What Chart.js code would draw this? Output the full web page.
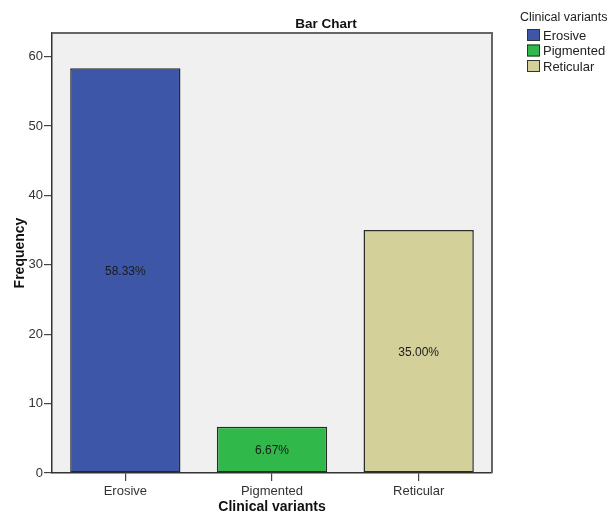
<!DOCTYPE html>
<html>
<head>
<meta charset="utf-8">
<title>Bar Chart</title>
<script src="https://cdn.jsdelivr.net/npm/chart.js@4.4.1/dist/chart.umd.min.js"></script>
<style>
  html, body { margin: 0; padding: 0; background: #ffffff; }
  #wrap { width: 616px; height: 512px; position: relative; }
</style>
</head>
<body>
<div id="wrap"><canvas id="barChart" width="616" height="512"></canvas></div>
<script>
// Clinical variant counts (percent of cases)
const categories = ['Erosive', 'Pigmented', 'Reticular'];
const frequencies = [58.33, 6.67, 35.00];
const yTickValues = [0, 10, 20, 30, 40, 50, 60];

const chartTitle = 'Bar Chart';
const legendTitle = 'Clinical variants';
const xAxisTitle = 'Clinical variants';
const yAxisTitle = 'Frequency';

const barColors = ['#3e56a8', '#30b84a', '#d4d099'];
const FONT = "'Liberation Sans', Arial, sans-serif";

// background, frame, in-bar percentages, title and legend
const spssDecor = {
    id: 'spssDecor',
    beforeDraw(chart) {
        const { ctx, chartArea: a } = chart;
        ctx.save();
        ctx.fillStyle = '#f0f0f0';
        ctx.fillRect(a.left, a.top, a.right - a.left, a.bottom - a.top);
        ctx.restore();
    },
    afterDraw(chart) {
        const { ctx, chartArea: a } = chart;
        ctx.save();

        // top and right edges of the plot frame
        ctx.strokeStyle = '#666666';
        ctx.lineWidth = 2;
        ctx.beginPath();
        ctx.moveTo(a.left, a.top);
        ctx.lineTo(a.right, a.top);
        ctx.lineTo(a.right, a.bottom);
        ctx.stroke();

        // percentage labels in the middle of each bar
        const total = frequencies.reduce((s, v) => s + v, 0);
        ctx.fillStyle = '#1a1a1a';
        ctx.font = '12px ' + FONT;
        ctx.textAlign = 'center';
        ctx.textBaseline = 'middle';
        chart.getDatasetMeta(0).data.forEach((bar, i) => {
            const { x, y, base } = bar.getProps(['x', 'y', 'base'], true);
            const pct = (frequencies[i] / total * 100).toFixed(2) + '%';
            ctx.fillText(pct, x, (y + base) / 2 + 1);
        });

        // chart title
        ctx.fillStyle = '#111111';
        ctx.font = 'bold 13.5px ' + FONT;
        ctx.fillText(chartTitle, 326, 24);

        // legend
        ctx.textAlign = 'left';
        ctx.fillStyle = '#222222';
        ctx.font = '12.5px ' + FONT;
        ctx.fillText(legendTitle, 520, 18);
        ctx.font = '13px ' + FONT;
        categories.forEach((name, i) => {
            const cy = 35 + i * 15.5;
            ctx.fillStyle = barColors[i];
            ctx.fillRect(527, cy - 6, 13, 12);
            ctx.strokeStyle = '#333333';
            ctx.lineWidth = 1;
            ctx.strokeRect(527.5, cy - 5.5, 12, 11);
            ctx.fillStyle = '#222222';
            ctx.fillText(name, 543, cy + 1);
        });

        ctx.restore();
    }
};

const ctx = document.getElementById('barChart').getContext('2d');
new Chart(ctx, {
    type: 'bar',
    data: {
        labels: categories,
        datasets: [{
            data: frequencies,
            backgroundColor: barColors,
            borderColor: '#2a2a2a',
            borderWidth: 1.5,
            borderSkipped: false,
            categoryPercentage: 1.0,
            barPercentage: 0.752
        }]
    },
    options: {
        responsive: false,
        animation: false,
        layout: { padding: { left: 0, top: 33, right: 124, bottom: 0 } },
        plugins: {
            legend: { display: false },
            tooltip: { enabled: false }
        },
        scales: {
            x: {
                type: 'category',
                offset: true,
                grid: { offset: false, drawOnChartArea: false, drawTicks: true, tickLength: 8, color: '#444444', lineWidth: 1.2 },
                border: { display: true, color: '#333333', width: 1.5 },
                ticks: { color: '#333333', font: { family: FONT, size: 13 }, padding: 3, maxRotation: 0 },
                title: {
                    display: true,
                    text: xAxisTitle,
                    color: '#111111',
                    font: { family: FONT, size: 14, weight: 'bold' },
                    padding: { top: 0, bottom: -4 }
                },
                afterFit(scale) { scale.height = 39; }
            },
            y: {
                min: 0,
                max: 63.4,
                grid: { drawOnChartArea: false, drawTicks: true, tickLength: 8, color: '#444444', lineWidth: 1.2 },
                border: { display: true, color: '#333333', width: 1.5 },
                ticks: {
                    includeBounds: false,
                    color: '#333333',
                    font: { family: FONT, size: 13 },
                    padding: 1
                },
                afterBuildTicks(scale) {
                    scale.ticks = yTickValues.map(v => ({ value: v }));
                },
                title: {
                    display: true,
                    text: yAxisTitle,
                    color: '#111111',
                    font: { family: FONT, size: 14, weight: 'bold' },
                    padding: { top: 12, bottom: 0 }
                },
                afterFit(scale) { scale.width = 52; }
            }
        }
    },
    plugins: [spssDecor]
});
</script>
</body>
</html>
